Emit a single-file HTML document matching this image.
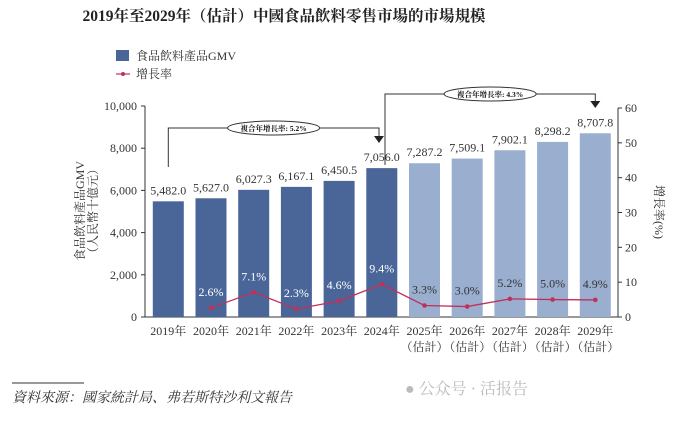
<!DOCTYPE html>
<html><head><meta charset="utf-8"><style>
body{margin:0;background:#fff;}
svg text{font-family:"Liberation Serif","Noto Serif CJK SC",serif;}
</style></head><body>
<svg id="c" width="679" height="416" viewBox="0 0 679 416" xmlns="http://www.w3.org/2000/svg">
<text x="284" y="21" text-anchor="middle" font-size="15.5" font-weight="bold" fill="#222">2019年至2029年（估計）中國食品飲料零售市場的市場規模</text>
<rect x="116" y="50" width="13" height="11" fill="#4a6699"/>
<text x="136" y="60" font-size="12" fill="#333">食品飲料產品GMV</text>
<line x1="116" y1="74" x2="130" y2="74" stroke="#c0305a" stroke-width="1.2"/>
<circle cx="123" cy="74" r="2" fill="#c0305a"/>
<text x="136" y="78" font-size="12" fill="#333">增長率</text>
<g id="axes"></g>
<g id="bars"></g>
<g id="line"></g>
<text transform="translate(84,211) rotate(-90)" text-anchor="middle" font-size="12" fill="#333">食品飲料產品GMV</text>
<text transform="translate(97,211) rotate(-90)" text-anchor="middle" font-size="12" fill="#333">（人民幣十億元）</text>
<text transform="translate(655,212) rotate(90)" text-anchor="middle" font-size="12" fill="#333">增長率(%)</text>
<line x1="12" y1="383" x2="84" y2="383" stroke="#333" stroke-width="1"/>
<text x="12" y="402" font-size="14" font-style="italic" fill="#333">資料來源：國家統計局、弗若斯特沙利文報告</text>
<text x="405" y="394" font-size="16" fill="#bbb" font-family="Liberation Sans,'Noto Sans CJK SC',sans-serif">● 公众号 · 活报告</text>
</svg>
<script>
const categories=["2019年","2020年","2021年","2022年","2023年","2024年","2025年","2026年","2027年","2028年","2029年"];
const estimated=[false,false,false,false,false,false,true,true,true,true,true];
const gmv=[5482.0,5627.0,6027.3,6167.1,6450.5,7056.0,7287.2,7509.1,7902.1,8298.2,8707.8];
const growth=[null,2.6,7.1,2.3,4.6,9.4,3.3,3.0,5.2,5.0,4.9];
const leftTicks=[0,2000,4000,6000,8000,10000];
const rightTicks=[0,10,20,30,40,50,60];
const NS="http://www.w3.org/2000/svg";
const x0=145,x1=618,y0=317,yTop=106,yTopR=108;
const step=42.7,first=168.3,bw=31;
const xc=i=>first+i*step;
const yL=v=>y0-(v/10000)*(y0-yTop);
const yR=v=>y0-(v/60)*(y0-yTopR);
function mk(tag,attrs,parent,txt){const e=document.createElementNS(NS,tag);for(const k in attrs)e.setAttribute(k,attrs[k]);if(txt!==undefined)e.textContent=txt;parent.appendChild(e);return e;}
const axes=document.getElementById('axes'),bars=document.getElementById('bars'),ln=document.getElementById('line');
let e;
e=mk('line',{x1:x0,y1:yTop,x2:x0,y2:y0,stroke:'#333'},axes);


e=mk('line',{x1:x0,y1:y0,x2:x1,y2:y0,stroke:'#333'},axes);


e=mk('line',{x1:x1,y1:yTopR,x2:x1,y2:y0,stroke:'#333'},axes);


leftTicks.forEach(t=>{
  mk('line',{x1:x0-4,y1:yL(t),x2:x0,y2:yL(t),stroke:'#333'},axes);
  e=mk('text',{x:x0-8,y:yL(t)+4,'text-anchor':'end','font-size':12,fill:'#333'},axes,t.toLocaleString('en-US'));
  
  
});
rightTicks.forEach(t=>{
  mk('line',{x1:x1,y1:yR(t),x2:x1+4,y2:yR(t),stroke:'#333'},axes);
  e=mk('text',{x:x1+7,y:yR(t)+4,'font-size':12,fill:'#333'},axes,String(t));
  
  
});
categories.forEach((c,i)=>{
  e=mk('rect',{x:xc(i)-bw/2,y:yL(gmv[i]),width:bw,height:y0-yL(gmv[i]),fill:estimated[i]?'#9aafcf':'#4a6699'},bars);
  
  
  e=mk('text',{x:xc(i),y:yL(gmv[i])-7,'text-anchor':'middle','font-size':12,fill:'#333'},bars,gmv[i].toLocaleString('en-US',{minimumFractionDigits:1}));
  
  
  e=mk('text',{x:xc(i),y:335,'text-anchor':'middle','font-size':12,fill:'#333'},bars,c);
  
  
  if(estimated[i]){
    e=mk('text',{x:xc(i),y:351,'text-anchor':'middle','font-size':12,fill:'#333'},bars,'（估計）');
    
    
  }
});
let pts=[];
growth.forEach((g,i)=>{if(g!==null)pts.push([xc(i),yR(g)]);});
e=mk('polyline',{points:pts.map(p=>p.join(',')).join(' '),fill:'none',stroke:'#c0305a','stroke-width':1.3},ln);


growth.forEach((g,i)=>{
  if(g===null)return;
  e=mk('circle',{cx:xc(i),cy:yR(g),r:2.3,fill:'#c0305a'},ln);
  
  
  e=mk('text',{x:xc(i),y:yR(g)-12,'text-anchor':'middle','font-size':12,fill:estimated[i]?'#333':'#fff'},ln,g.toFixed(1)+'%');
  
  
});
function bracket(xa,ya,xb,yb,ytop,label,name){
  const g=mk('g',{},ln);
  
  
  mk('polyline',{points:`${xa},${ya} ${xa},${ytop} ${xb},${ytop} ${xb},${yb-6}`,fill:'none',stroke:'#333','stroke-width':1},g);
  mk('polygon',{points:`${xb-5},${yb-7} ${xb+5},${yb-7} ${xb},${yb}`,fill:'#222'},g);
  const cx=(xa+xb)/2;
  mk('ellipse',{cx:cx,cy:ytop,rx:46,ry:7,fill:'#fff',stroke:'#333'},g);
  mk('text',{x:cx,y:ytop+3,'text-anchor':'middle','font-size':7.5,'font-weight':'bold',fill:'#111'},g,label);
}
bracket(xc(0),167,379,143,128,'複合年增長率: 5.2%','cagr-2019-2024');
bracket(385,165,xc(10),108,94,'複合年增長率: 4.3%','cagr-2024-2029');
</script>
</body></html>
